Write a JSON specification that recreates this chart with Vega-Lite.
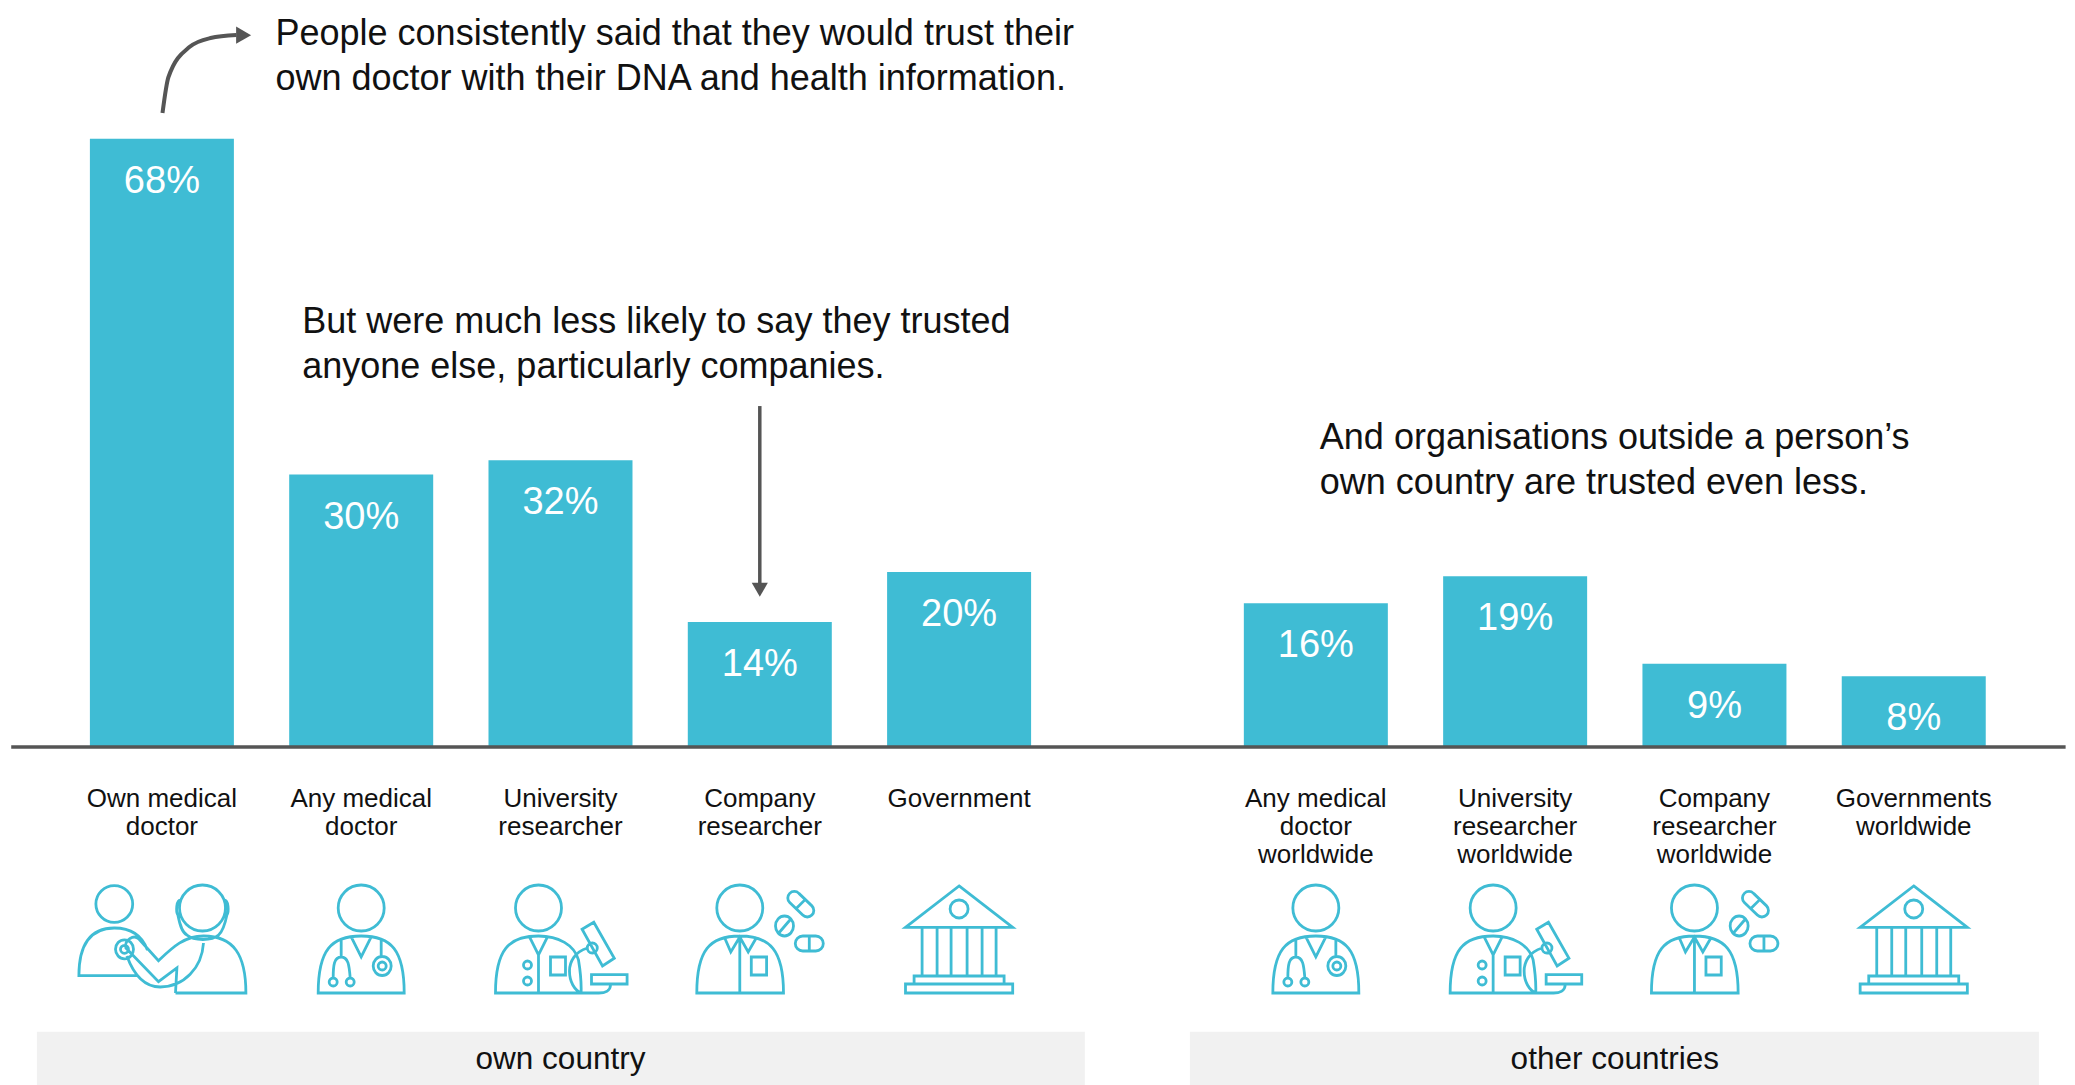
{"$schema":"https://vega.github.io/schema/vega-lite/v6.json","width":2075,"height":1085,"padding":0,"autosize":{"type":"fit","contains":"padding"},"background":"white","view":{"stroke":null},"config":{"text":{"lineBreak":"\n"}},
"datasets":{
"sources":[
{"source":"Own medical\ndoctor","pos":0,"bar":68,"label":"68%","icon":"pair","iconY":-21.72},
{"source":"Any medical\ndoctor","pos":1,"bar":30.4,"label":"30%","icon":"doctor","iconY":-21.72},
{"source":"University\nresearcher","pos":2,"bar":32,"label":"32%","icon":"university","iconY":-21.72},
{"source":"Company\nresearcher","pos":3,"bar":13.9,"label":"14%","icon":"company","iconY":-21.72},
{"source":"Government","pos":4,"bar":19.5,"label":"20%","icon":"government","iconY":-21.72},
{"source":"Any medical\ndoctor\nworldwide","pos":5.79,"bar":16,"label":"16%","icon":"doctor","iconY":-21.72},
{"source":"University\nresearcher\nworldwide","pos":6.79,"bar":19,"label":"19%","icon":"university","iconY":-21.72},
{"source":"Company\nresearcher\nworldwide","pos":7.79,"bar":9.2,"label":"9%","icon":"company","iconY":-21.72},
{"source":"Governments\nworldwide","pos":8.79,"bar":7.8,"label":"8%","icon":"government","iconY":-21.72}],
"bands":[{"name":"own country","x0":-0.627,"x1":4.631,"mid":2.0},{"name":"other countries","x0":5.158,"x1":9.418,"mid":7.29}],
"notes":[
{"t":"People consistently said that they would trust their\nown doctor with their DNA and health information.","x":0.57,"y":79.73},
{"t":"But were much less likely to say they trusted\nanyone else, particularly companies.","x":0.704,"y":47.5},
{"t":"And organisations outside a person’s\nown country are trusted even less.","x":5.81,"y":34.5}],
"curve":[{"x":0.003,"y":70.88},{"x":0.033,"y":74.92},{"x":0.138,"y":78.27},{"x":0.244,"y":79.28},{"x":0.374,"y":79.62}]
},
"layer":[
{"data":{"name":"bands"},"mark":{"type":"rect","color":"#f1f1f1"},"encoding":{"x":{"field":"x0","type":"quantitative","scale":{"domain":[-0.8123,9.5991],"nice":false,"zero":false,"padding":0},"axis":null},"x2":{"field":"x1"},"y":{"datum":-32,"type":"quantitative","scale":{"domain":[-37.96,83.54],"nice":false,"zero":false,"padding":0},"axis":null},"y2":{"datum":-37.96}}},
{"data":{"name":"bands"},"mark":{"type":"text","font":"Liberation Sans","fontSize":31.5,"color":"#111","baseline":"middle"},"encoding":{"x":{"field":"mid","type":"quantitative"},"y":{"datum":-35.2,"type":"quantitative"},"text":{"field":"name"}}},
{"data":{"name":"sources"},"mark":{"type":"bar","size":144,"color":"#3fbcd4","orient":"vertical"},"encoding":{"x":{"field":"pos","type":"quantitative"},"y":{"field":"bar","type":"quantitative"},"y2":{"datum":0}}},
{"data":{"values":[{"a":-0.756,"b":9.552}]},"mark":{"type":"rule","color":"#555","strokeWidth":3.5},"encoding":{"x":{"field":"a","type":"quantitative"},"x2":{"field":"b"},"y":{"datum":-0.12,"type":"quantitative"}}},
{"data":{"name":"sources"},"mark":{"type":"text","font":"Liberation Sans","fontSize":38,"color":"white","baseline":"middle","dy":43},"encoding":{"x":{"field":"pos","type":"quantitative"},"y":{"field":"bar","type":"quantitative"},"text":{"field":"label"}}},
{"data":{"name":"sources"},"mark":{"type":"text","font":"Liberation Sans","fontSize":26,"color":"#111","baseline":"top","lineHeight":28},"encoding":{"x":{"field":"pos","type":"quantitative"},"y":{"datum":-4.48,"type":"quantitative"},"text":{"field":"source"}}},
{"data":{"name":"sources"},"mark":{"type":"point","filled":false,"size":4,"stroke":"#3fbcd4","strokeWidth":2.8,"opacity":1},"encoding":{"x":{"field":"pos","type":"quantitative"},"y":{"field":"iconY","type":"quantitative"},"shape":{"field":"icon","type":"nominal","legend":null,"scale":{"domain":["pair","doctor","university","company","government"],"range":[
"M-66 -36A18.4 18.4 0 1 1 -29.2 -36A18.4 18.4 0 1 1 -66 -36ZM17.6 -32A23 23 0 1 1 63.6 -32A23 23 0 1 1 17.6 -32ZM-24.7 35.7L-83 35.7C-83 5 -72 -12 -47.6 -12C-32 -12 -20 -5 -14.5 10M13.6 53L84 53C84 15 72 -4 41.6 -4C22 -4 10 8 -3.4 20.7L-23 -1C-28 -6 -38 0 -36 8L-3.4 41.7L15 28L13.6 53M-46.4 9.3A9 9.5 0 1 1 -28.4 9.3A9 9.5 0 1 1 -46.4 9.3ZM-41.4 9.3A4 4 0 1 1 -33.4 9.3A4 4 0 1 1 -41.4 9.3ZM41.6 3C40 28 22 47 -1.7 47C-18 47 -28 35 -35 16M19 -40C14 -40 14 -28 16 -25C18 -15 20 -8 25 -5C32 1 50 1 56.7 -5C60 -8 63 -15 65 -25C67 -28 67 -40 62 -40",
"M-23 -32A23 23 0 1 1 23 -32A23 23 0 1 1 -23 -32ZM-43 53C-43 10 -30 -4 0 -4C30 -4 43 10 43 53ZM-10 -3L0 17L10 -3M-20 0L-20 17M-28 38C-28 25 -27 17 -20 17C-13 17 -12 25 -11 38M-32 42A4 4 0 1 1 -24 42A4 4 0 1 1 -32 42ZM-15 42A4 4 0 1 1 -7 42A4 4 0 1 1 -15 42ZM20 0L20 16M12 26A9 9.5 0 1 1 30 26A9 9.5 0 1 1 12 26ZM17 26A4 4 0 1 1 25 26A4 4 0 1 1 17 26Z",
"M-45 -32A23 23 0 1 1 1 -32A23 23 0 1 1 -45 -32ZM20.6 53L-65 53C-65 10 -52 -4 -22 -4C-2 -4 14 5 18 20C20 32 21 42 20.6 53M-31 -3L-22 15L-13 -3M-22 15L-22 53M-37 25A4 4 0 1 1 -29 25A4 4 0 1 1 -37 25ZM-37 41A4 4 0 1 1 -29 41A4 4 0 1 1 -37 41ZM-10 17L5 17L5 35L-10 35ZM21.6 -10.7L33.3 -17.7L53.8 18.3L42 26ZM26.8 8A5 5 0 1 1 36.8 8A5 5 0 1 1 26.8 8ZM27 8C14 12 9 22 9 31C9 42 14 50 20.6 53L38.5 53C44 53 50 51 50 45M31 34.7L66.6 34.7L66.6 44L31 44Z",
"M-43 -32A23 23 0 1 1 3 -32A23 23 0 1 1 -43 -32ZM-63 53C-63 10 -50 -4 -20 -4C10 -4 23.7 10 23.7 53ZM-20 -4L-20 53M-35.5 -3L-29 12L-20 -3L-11.6 12L-3 -3M-8.5 17L6.8 17L6.8 35L-8.5 35ZM39.1 -46.6L52.1 -34.1A6.5 6.5 0 0 1 42.9 -24.9L29.9 -37.4A6.5 6.5 0 0 1 39.1 -46.6ZM45.6 -40.6L36.4 -31.4M15.7 -14A9 10 0 1 1 33.7 -14A9 10 0 1 1 15.7 -14ZM31 -21L19 -7M43 -4L56 -4A7.5 7.5 0 0 1 56 11L43 11A7.5 7.5 0 0 1 43 -4ZM49.5 -4L49.5 11",
"M0 -54L53.6 -12.7L-53.6 -12.7ZM-9 -31A9 9 0 1 1 9 -31A9 9 0 1 1 -9 -31ZM-37 -12.7L-37 36M-22 -12.7L-22 36M-8 -12.7L-8 36M8 -12.7L8 36M23 -12.7L23 36M37 -12.7L37 36M-45 36L45 36L45 44L-45 44ZM-53.6 44L53.6 44L53.6 53L-53.6 53Z"
]}}}},
{"data":{"name":"notes"},"mark":{"type":"text","font":"Liberation Sans","fontSize":36,"color":"#111","align":"left","baseline":"middle","lineHeight":45},"encoding":{"x":{"field":"x","type":"quantitative"},"y":{"field":"y","type":"quantitative"},"text":{"field":"t"}}},
{"data":{"name":"curve"},"mark":{"type":"line","color":"#555","strokeWidth":4,"interpolate":"monotone"},"encoding":{"x":{"field":"x","type":"quantitative"},"y":{"field":"y","type":"quantitative"},"order":{"field":"x"}}},
{"data":{"values":[{"x":0.41,"y":79.6}]},"mark":{"type":"point","filled":true,"color":"#555","size":300,"opacity":1,"shape":"triangle-right"},"encoding":{"x":{"field":"x","type":"quantitative"},"y":{"field":"y","type":"quantitative"}}},
{"data":{"values":[{"x":3,"y0":38.07,"y1":18}]},"mark":{"type":"rule","color":"#555","strokeWidth":3.5},"encoding":{"x":{"field":"x","type":"quantitative"},"y":{"field":"y0","type":"quantitative"},"y2":{"field":"y1"}}},
{"data":{"values":[{"x":3,"y":17.5}]},"mark":{"type":"point","filled":true,"color":"#555","size":260,"opacity":1,"shape":"triangle-down"},"encoding":{"x":{"field":"x","type":"quantitative"},"y":{"field":"y","type":"quantitative"}}}
]}
